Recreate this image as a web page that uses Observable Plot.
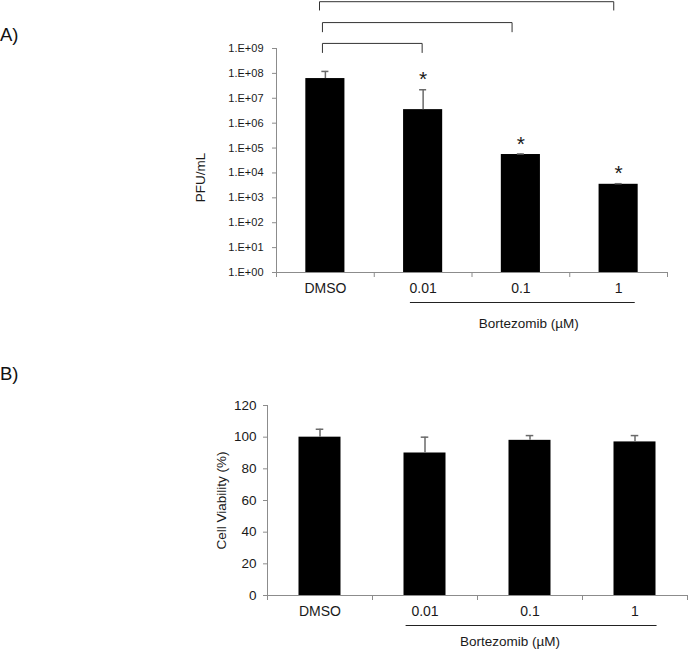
<!DOCTYPE html>
<html>
<head>
<meta charset="utf-8">
<script src="https://cdn.jsdelivr.net/npm/d3@7"></script>
<script src="https://cdn.jsdelivr.net/npm/@observablehq/plot@0.6"></script>
<style>
  html, body { margin: 0; padding: 0; background: #fff; }
  body { width: 688px; height: 651px; position: relative; overflow: hidden; font-family: "Liberation Sans", Arial, sans-serif; }
  .panel { position: absolute; left: 0; font-size: 18.5px; line-height: 1; color: #111; font-family: "Liberation Sans", Arial, sans-serif; }
  #chartA, #chartB { display: block; }
  svg { display: block; }
</style>
</head>
<body>
<div id="chartA"></div>
<div id="chartB"></div>
<div class="panel" style="top:25.5px">A)</div>
<div class="panel" style="top:365px">B)</div>
<script>
// ---------- data ----------
const categories = ["DMSO", "0.01", "0.1", "1"];
const groupLabel = "Bortezomib (µM)";

// Panel A: PFU/mL (log scale)
const pfuValues = [6.2e7, 3.5e6, 5.5e4, 3.5e3];
const pfuErrors = [5.8e7, 1.85e7, 3e3, 2e2];
const pfuStars = ["", "*", "*", "*"];
const pfuTicks = [1, 1e1, 1e2, 1e3, 1e4, 1e5, 1e6, 1e7, 1e8, 1e9];
const pfuLabel = "PFU/mL";
// significance brackets: category positions (in category units) and heights
const bracketFrom = [0.47, 0.47, 0.44];
const bracketTo = [1.49, 2.41, 3.45];
const bracketTop = [1.6e9, 1.1e10, 7.6e10];
const bracketBottom = [6.9e8, 4.7e9, 3.5e10];
const groupLineA = [1.37, 3.67];
const groupLabelXA = 2.58;

// Panel B: cell viability
const viabValues = [100, 90, 98, 97];
const viabErrors = [5, 10, 3, 4];
const viabTicks = [0, 20, 40, 60, 80, 100, 120];
const viabLabel = "Cell Viability (%)";
const groupLineB = [1.32, 3.71];
const groupLabelXB = 2.31;

// ---------- styles ----------
const axisGray = "#8c8c8c";
const textColor = "#1a1a1a";
const errColor = "#6a6a6a";
const font = "Liberation Sans, Arial, sans-serif";

const rowsA = categories.map((c, i) => ({cat: c, i, value: pfuValues[i], err: pfuErrors[i], star: pfuStars[i]}));
const rowsB = categories.map((c, i) => ({cat: c, i, value: viabValues[i], err: viabErrors[i]}));
const bracketPts = [];
bracketFrom.forEach((f, k) => {
  bracketPts.push({k, x: f, y: bracketBottom[k]});
  bracketPts.push({k, x: f, y: bracketTop[k]});
  bracketPts.push({k, x: bracketTo[k], y: bracketTop[k]});
  bracketPts.push({k, x: bracketTo[k], y: bracketBottom[k]});
});
const catTicks = d3.range(0, categories.length + 1);
const half = 0.2;   // bar half width in category units
const cap = 0.036;  // error cap half width

function panelMarks(rows, yMin, fmt, ticks, tickFs, tickPad, line, labelX, yLabel, yLabelDx, yLabelDy, groupDy) {
  return [
    Plot.rectY(rows, {x1: d => d.i + 0.5 - half, x2: d => d.i + 0.5 + half, y1: yMin, y2: "value", fill: "#000"}),
    Plot.ruleX(rows, {x: d => d.i + 0.5, y1: "value", y2: d => d.value + d.err, stroke: errColor, strokeWidth: 1.5}),
    Plot.ruleY(rows, {y: d => d.value + d.err, x1: d => d.i + 0.5 - cap, x2: d => d.i + 0.5 + cap, stroke: errColor, strokeWidth: 1.5}),
    Plot.ruleX([0], {y1: yMin, y2: ticks[ticks.length - 1], stroke: axisGray}),
    Plot.ruleY([yMin], {x1: 0, x2: categories.length, stroke: axisGray}),
    Plot.axisY({ticks, tickFormat: fmt, tickSize: 4, tickPadding: tickPad, label: null, stroke: axisGray, fill: textColor, fontSize: tickFs, fontFamily: font}),
    Plot.axisX({ticks: catTicks, tickFormat: () => "", tickSize: 5, label: null, stroke: axisGray}),
    Plot.text(rows, {x: d => d.i + 0.5, y: yMin, text: "cat", dy: 16.5, fontSize: 14, fill: textColor, fontFamily: font}),
    Plot.ruleY([yMin], {x1: line[0], x2: line[1], dy: 30, stroke: "#222", strokeWidth: 1}),
    Plot.text([groupLabel], {x: labelX, y: yMin, text: d => d, dy: groupDy, textAnchor: "middle", fontSize: 13.5, fill: textColor, fontFamily: font}),
    Plot.text([yLabel], {frameAnchor: "left", text: d => d, rotate: -90, textAnchor: "middle", dx: yLabelDx, dy: yLabelDy, fontSize: 13.5, fill: textColor, fontFamily: font})
  ];
}

const chartA = Plot.plot({
  width: 688, height: 340,
  marginLeft: 276, marginRight: 21, marginTop: 48, marginBottom: 68,
  style: {fontFamily: font, background: "#fff"},
  x: {type: "linear", domain: [0, categories.length], axis: null},
  y: {type: "log", domain: [1, 1e9], axis: null},
  marks: [
    ...panelMarks(rowsA, 1, d => "1.E+" + String(Math.round(Math.log10(d))).padStart(2, "0"), pfuTicks, 11, 9, groupLineA, groupLabelXA, pfuLabel, -76, 17, 51),
    Plot.line(bracketPts, {x: "x", y: "y", z: "k", stroke: "#333", strokeWidth: 1}),
    Plot.text(rowsA.filter(d => d.star), {x: d => d.i + 0.5, y: d => d.value + d.err, text: "star", dy: -10, fontSize: 21, fill: textColor, fontFamily: font})
  ]
});
document.getElementById("chartA").append(chartA);

const chartB = Plot.plot({
  width: 688, height: 311,
  marginLeft: 267, marginRight: 1, marginTop: 65, marginBottom: 56,
  style: {fontFamily: font, background: "#fff"},
  x: {type: "linear", domain: [0, categories.length], axis: null},
  y: {type: "linear", domain: [0, 120], axis: null},
  marks: [
    ...panelMarks(rowsB, 0, d => String(d), viabTicks, 13.5, 7, groupLineB, groupLabelXB, viabLabel, -45.5, 0, 46.5)
  ]
});
document.getElementById("chartB").append(chartB);
</script>
</body>
</html>
